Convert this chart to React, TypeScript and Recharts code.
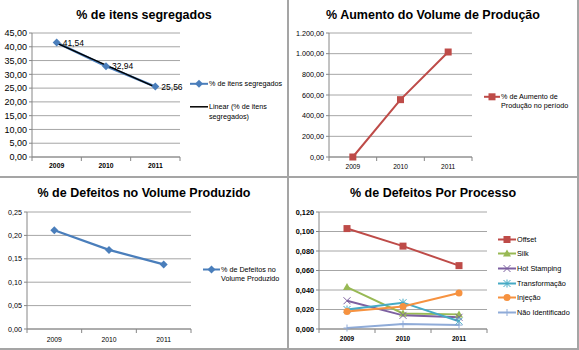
import React from 'react';
import { LineChart, Line, XAxis, YAxis, CartesianGrid, Legend, LabelList } from 'recharts';

const years = ['2009', '2010', '2011'];

const itensSegregados = [41.54, 32.94, 25.56];
const linearSegregados = [41.34, 33.35, 25.36];
const aumentoProducao = [0, 555, 1016];
const defeitosVolume = [0.211, 0.169, 0.138];
const offset = [0.103, 0.085, 0.065];
const silk = [0.043, 0.016, 0.015];
const hotStamping = [0.029, 0.014, 0.012];
const transformacao = [0.02, 0.027, 0.008];
const injecao = [0.018, 0.023, 0.037];
const naoIdentificado = [0.001, 0.005, 0.004];

const ticksSegregados = [0, 5, 10, 15, 20, 25, 30, 35, 40, 45];
const ticksAumento = [0, 200, 400, 600, 800, 1000, 1200];
const ticksDefeitos = [0, 0.05, 0.1, 0.15, 0.2, 0.25];
const ticksProcesso = [0, 0.02, 0.04, 0.06, 0.08, 0.1, 0.12];

const FONT = '"Liberation Sans", Arial, sans-serif';
const GRID = '#a6a6a6';
const AXIS = '#868686';

type Shape = 'diamond' | 'square' | 'triangle' | 'x' | 'star' | 'circle' | 'plus' | 'none';

interface SeriesDef {
  key: string;
  name: string;
  values: number[];
  color: string;
  shape: Shape;
  width: number;
  labels?: boolean;
}

function fmtNum(v: number, dec: number) {
  const [i, d] = v.toFixed(dec).split('.');
  const withDots = i.replace(/\B(?=(\d{3})+(?!\d))/g, '.');
  return d ? `${withDots},${d}` : withDots;
}

const Marker = ({ cx, cy, shape, color }: { cx: number; cy: number; shape: Shape; color: string }) => {
  const r = 3.5;
  switch (shape) {
    case 'diamond':
      return <polygon points={`${cx},${cy - 4} ${cx + 4},${cy} ${cx},${cy + 4} ${cx - 4},${cy}`} fill={color} />;
    case 'square':
      return <rect x={cx - 3.5} y={cy - 3.5} width={7} height={7} fill={color} />;
    case 'triangle':
      return <polygon points={`${cx},${cy - 4} ${cx + 4},${cy + 3} ${cx - 4},${cy + 3}`} fill={color} />;
    case 'circle':
      return <circle cx={cx} cy={cy} r={r} fill={color} />;
    case 'x':
      return (
        <g stroke={color} strokeWidth={1}>
          <line x1={cx - r} y1={cy - r} x2={cx + r} y2={cy + r} />
          <line x1={cx - r} y1={cy + r} x2={cx + r} y2={cy - r} />
        </g>
      );
    case 'star':
      return (
        <g stroke={color} strokeWidth={1}>
          <line x1={cx - r} y1={cy - r} x2={cx + r} y2={cy + r} />
          <line x1={cx - r} y1={cy + r} x2={cx + r} y2={cy - r} />
          <line x1={cx} y1={cy - r - 0.5} x2={cx} y2={cy + r + 0.5} />
        </g>
      );
    case 'plus':
      return (
        <g stroke={color} strokeWidth={1}>
          <line x1={cx - r} y1={cy} x2={cx + r} y2={cy} />
          <line x1={cx} y1={cy - r} x2={cx} y2={cy + r} />
        </g>
      );
    default:
      return null;
  }
};

const XTick = (props: any) => {
  const { x, y, payload, index, half, count, fontSize, bold, baseline } = props;
  return (
    <g>
      <line x1={x - half} x2={x - half} y1={y} y2={y + 4} stroke={AXIS} />
      {index === count - 1 && <line x1={x + half} x2={x + half} y1={y} y2={y + 4} stroke={AXIS} />}
      <text
        x={x}
        y={y + baseline}
        textAnchor="middle"
        fontSize={fontSize}
        fontWeight={bold ? 'bold' : 'normal'}
        fontFamily={FONT}
        fill="#000"
      >
        {payload.value}
      </text>
    </g>
  );
};

interface LegendCfg {
  left: number;
  top: number;
  lineLen: number;
  textWidth: number;
  fontSize: number;
  lineH: number;
  gap: number;
}

const LegendBlock = ({ items, cfg }: { items: SeriesDef[]; cfg: LegendCfg }) => (
  <div style={{ fontFamily: FONT, fontSize: cfg.fontSize, color: '#000', lineHeight: `${cfg.lineH}px`, textAlign: 'left' }}>
    {items.map((it, i) => (
      <div key={it.key} style={{ display: 'flex', alignItems: 'flex-start', marginTop: i ? cfg.gap : 0 }}>
        <svg width={cfg.lineLen} height={cfg.lineH} style={{ flex: 'none', display: 'block' }}>
          <line x1={0} x2={cfg.lineLen} y1={cfg.lineH / 2} y2={cfg.lineH / 2} stroke={it.color} strokeWidth={Math.min(it.width, 2)} />
          <Marker cx={cfg.lineLen / 2} cy={cfg.lineH / 2} shape={it.shape} color={it.color} />
        </svg>
        <div style={{ width: cfg.textWidth, marginLeft: 1 }}>{it.name}</div>
      </div>
    ))}
  </div>
);

interface PanelProps {
  left: number;
  top: number;
  width: number;
  height: number;
  title: string;
  series: SeriesDef[];
  yTicks: number[];
  decimals: number;
  plotLeft: number;
  plotRight: number;
  plotTop: number;
  plotBottom: number;
  yFont: number;
  yBold?: boolean;
  xFont: number;
  xBold?: boolean;
  xBaseline: number;
  legend: LegendCfg;
}

const Panel = (p: PanelProps) => {
  const data = years.map((year, i) => {
    const row: Record<string, any> = { year };
    p.series.forEach((s) => {
      row[s.key] = s.values[i];
    });
    return row;
  });
  const plotW = p.plotRight - p.plotLeft;
  const half = plotW / years.length / 2;
  return (
    <div style={{ position: 'absolute', left: p.left, top: p.top, width: p.width, height: p.height }}>
      <div
        style={{
          position: 'absolute',
          left: 0,
          top: 7,
          width: 288,
          textAlign: 'center',
          fontFamily: FONT,
          fontWeight: 'bold',
          fontSize: 12.5,
          lineHeight: '16px',
          color: '#000',
        }}
      >
        {p.title}
      </div>
      <LineChart
        width={p.width}
        height={p.height}
        data={data}
        margin={{ top: p.plotTop, right: p.width - p.plotRight, bottom: 0, left: 0 }}
      >
        <CartesianGrid horizontal vertical={false} stroke={GRID} />
        <XAxis
          dataKey="year"
          scale="point"
          padding={{ left: half, right: half }}
          height={p.height - p.plotBottom}
          stroke={AXIS}
          tickLine={false}
          tickSize={0}
          tickMargin={0}
          interval={0}
          tick={<XTick half={half} count={years.length} fontSize={p.xFont} bold={p.xBold} baseline={p.xBaseline} />}
        />
        <YAxis
          width={p.plotLeft}
          domain={[p.yTicks[0], p.yTicks[p.yTicks.length - 1]]}
          ticks={p.yTicks}
          interval={0}
          stroke={AXIS}
          tickSize={3}
          tickMargin={2}
          tickFormatter={(v: number) => fmtNum(v, p.decimals)}
          tick={{ fontSize: p.yFont, fill: '#000', fontFamily: FONT, fontWeight: p.yBold ? 'bold' : 'normal' }}
        />
        {p.series.map((s) => (
          <Line
            key={s.key}
            dataKey={s.key}
            name={s.name}
            type="linear"
            stroke={s.color}
            strokeWidth={s.width}
            isAnimationActive={false}
            dot={
              s.shape === 'none'
                ? false
                : (d: any) => <Marker key={`${s.key}-${d.index}`} cx={d.cx} cy={d.cy} shape={s.shape} color={s.color} />
            }
            activeDot={false}
          >
            {s.labels && (
              <LabelList
                dataKey={s.key}
                position="right"
                offset={6}
                formatter={(v: any) => fmtNum(Number(v), 2)}
                style={{ fontSize: 8.5, fill: '#000', fontFamily: FONT }}
              />
            )}
          </Line>
        ))}
        <Legend
          layout="vertical"
          align="center"
          verticalAlign="middle"
          wrapperStyle={{
            left: p.legend.left,
            top: p.legend.top,
            width: p.legend.lineLen + p.legend.textWidth + 2,
            margin: 0,
          }}
          content={() => <LegendBlock items={p.series} cfg={p.legend} />}
        />
      </LineChart>
    </div>
  );
};

const segregadosSeries: SeriesDef[] = [
  { key: 'seg', name: '% de itens segregados', values: itensSegregados, color: '#4a7ebb', shape: 'diamond', width: 2.5, labels: true },
  { key: 'lin', name: 'Linear (% de itens segregados)', values: linearSegregados, color: '#000000', shape: 'none', width: 1.5 },
];

const aumentoSeries: SeriesDef[] = [
  { key: 'aum', name: '% de Aumento de Produção no período', values: aumentoProducao, color: '#be4b48', shape: 'square', width: 2 },
];

const defeitosSeries: SeriesDef[] = [
  { key: 'def', name: '% de Defeitos no Volume Produzido', values: defeitosVolume, color: '#4a7ebb', shape: 'diamond', width: 2.25 },
];

const processoSeries: SeriesDef[] = [
  { key: 'off', name: 'Offset', values: offset, color: '#be4b48', shape: 'square', width: 2 },
  { key: 'silk', name: 'Silk', values: silk, color: '#98b954', shape: 'triangle', width: 2 },
  { key: 'hot', name: 'Hot Stamping', values: hotStamping, color: '#7d60a0', shape: 'x', width: 2 },
  { key: 'tra', name: 'Transformação', values: transformacao, color: '#46aac5', shape: 'star', width: 2 },
  { key: 'inj', name: 'Injeção', values: injecao, color: '#f69240', shape: 'circle', width: 2 },
  { key: 'nao', name: 'Não Identificado', values: naoIdentificado, color: '#8fabd8', shape: 'plus', width: 2 },
];

export default function App() {
  return (
    <div style={{ position: 'absolute', left: 0, top: 0, width: 579, height: 350, background: '#fff', overflow: 'hidden' }}>
      <Panel
        left={0}
        top={0}
        width={288}
        height={176}
        title="% de itens segregados"
        series={segregadosSeries}
        yTicks={ticksSegregados}
        decimals={2}
        plotLeft={32}
        plotRight={180}
        plotTop={33}
        plotBottom={157}
        yFont={9}
        xFont={6.8}
        xBold
        xBaseline={11}
        legend={{ left: 190, top: 79, lineLen: 18, textWidth: 78, fontSize: 7.2, lineH: 9.6, gap: 13.4 }}
      />
      <Panel
        left={289}
        top={0}
        width={288}
        height={176}
        title="% Aumento do Volume de Produção"
        series={aumentoSeries}
        yTicks={ticksAumento}
        decimals={2}
        plotLeft={40}
        plotRight={183}
        plotTop={33}
        plotBottom={157}
        yFont={7.2}
        xFont={6.6}
        xBaseline={12}
        legend={{ left: 195, top: 91.5, lineLen: 16, textWidth: 78, fontSize: 7.2, lineH: 9.6, gap: 0 }}
      />
      <Panel
        left={0}
        top={178}
        width={288}
        height={171}
        title="% de Defeitos no Volume Produzido"
        series={defeitosSeries}
        yTicks={ticksDefeitos}
        decimals={2}
        plotLeft={27}
        plotRight={191}
        plotTop={34}
        plotBottom={151}
        yFont={7.2}
        xFont={6.8}
        xBaseline={12.5}
        legend={{ left: 203, top: 87.2, lineLen: 17, textWidth: 66, fontSize: 7.2, lineH: 9, gap: 0 }}
      />
      <Panel
        left={289}
        top={178}
        width={288}
        height={171}
        title="% de Defeitos Por Processo"
        series={processoSeries}
        yTicks={ticksProcesso}
        decimals={3}
        plotLeft={30}
        plotRight={198}
        plotTop={34}
        plotBottom={151}
        yFont={7.3}
        yBold
        xFont={6.5}
        xBold
        xBaseline={12}
        legend={{ left: 209, top: 56.8, lineLen: 18, textWidth: 60, fontSize: 7.3, lineH: 9, gap: 5.6 }}
      />
      <div style={{ position: 'absolute', left: 287, top: 0, width: 2, height: 350, background: '#a5a5a5' }} />
      <div style={{ position: 'absolute', left: 0, top: 176, width: 579, height: 2, background: '#a5a5a5' }} />
      <div style={{ position: 'absolute', left: 577, top: 0, width: 2, height: 350, background: '#a5a5a5' }} />
      <div style={{ position: 'absolute', left: 0, top: 348, width: 579, height: 2, background: '#a5a5a5' }} />
    </div>
  );
}
